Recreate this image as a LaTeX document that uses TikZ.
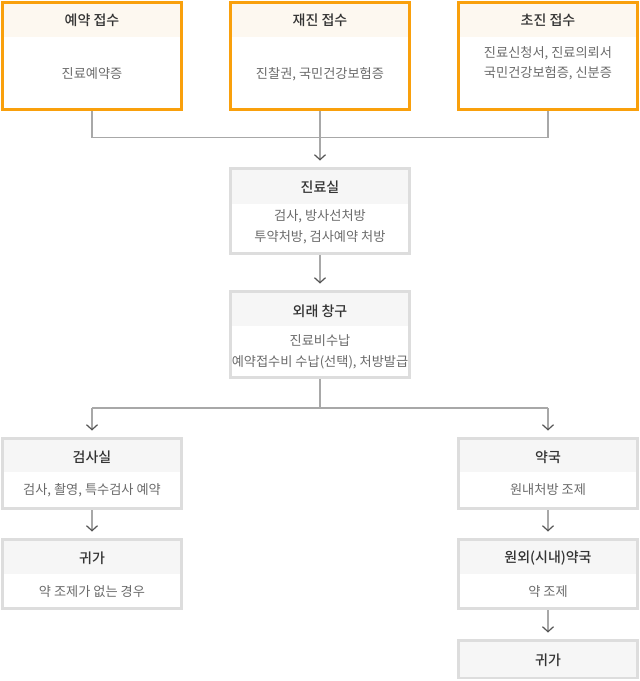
\documentclass[tikz,border=0pt]{standalone}
\usepackage{fontspec}
\setmainfont{Noto Sans CJK KR}[BoldFont={Noto Sans CJK KR Medium}]
\usetikzlibrary{arrows.meta}
\definecolor{orng}{HTML}{F9A00C}
\definecolor{gbord}{HTML}{DDDDDD}
\definecolor{hgray}{HTML}{F6F6F6}
\definecolor{hcream}{HTML}{FDF8F0}
\definecolor{ttlc}{HTML}{333333}
\definecolor{bodyc}{HTML}{6A6A6A}
\definecolor{lnc}{HTML}{A8A8A8}
\definecolor{tipc}{HTML}{555555}
\tikzset{
  obox/.style={draw=orng,line width=3pt,inner sep=0pt,outer sep=0pt,minimum width=179pt},
  gbox/.style={draw=gbord,line width=3pt,inner sep=0pt,outer sep=0pt,minimum width=179pt},
  ttl/.style={font=\fontsize{14}{17}\selectfont\bfseries,text=ttlc,inner sep=0pt},
  bdy/.style={font=\fontsize{13.2}{20.5}\selectfont,text=bodyc,align=center,inner sep=0pt},
  ln/.style={draw=lnc,line width=1.1pt},
  arr/.style={draw=lnc,line width=1.1pt,-{Straight Barb[length=5pt,width=11pt,line width=1.2pt,color=tipc]}}
}
\begin{document}
\begin{tikzpicture}[x=1pt,y=-1pt]
\useasboundingbox (0,0) rectangle (640,681);
% top row
\node[obox, minimum height=107, anchor=north] (ya) at (92,2.5) {};
\fill[hcream] (92-88,4) rectangle (92+88,37);
\node[ttl] (yat) at (92,20) {예약 접수};
\node[bdy] (yab) at (92,74) {진료예약증};

\node[obox, minimum height=107, anchor=north] (ja) at (320,2.5) {};
\fill[hcream] (320-88,4) rectangle (320+88,37);
\node[ttl] (jat) at (320,20) {재진 접수};
\node[bdy] (jab) at (320,74) {진찰권, 국민건강보험증};

\node[obox, minimum height=107, anchor=north] (ca) at (548,2.5) {};
\fill[hcream] (548-88,4) rectangle (548+88,37);
\node[ttl] (cat) at (548,20) {초진 접수};
\node[bdy] (cab) at (548,63.5) {진료신청서, 진료의뢰서\\국민건강보험증, 신분증};

% 진료실
\node[gbox, minimum height=85, anchor=north] (jr) at (320,168.5) {};
\fill[hgray] (320-88,170) rectangle (320+88,204);
\node[ttl] (jrt) at (320,187) {진료실};
\node[bdy] (jrb) at (320,227) {검사, 방사선처방\\투약처방, 검사예약 처방};

% 외래 창구
\node[gbox, minimum height=86, anchor=north] (wc) at (320,291.5) {};
\fill[hgray] (320-88,293) rectangle (320+88,326);
\node[ttl] (wct) at (320,311) {외래 창구};
\node[bdy] (wcb) at (320,352) {진료비수납\\예약접수비 수납(선택), 처방발급};

% 검사실
\node[gbox, minimum height=70, anchor=north] (gs) at (92,438.5) {};
\fill[hgray] (92-88,440) rectangle (92+88,472);
\node[ttl] (gst) at (92,457) {검사실};
\node[bdy] (gsb) at (92,490) {검사, 촬영, 특수검사 예약};

% 귀가 (left)
\node[gbox, minimum height=69, anchor=north] (gl) at (92,539.5) {};
\fill[hgray] (92-88,541) rectangle (92+88,574);
\node[ttl] (glt) at (92,558) {귀가};
\node[bdy] (glb) at (92,592) {약 조제가 없는 경우};

% 약국
\node[gbox, minimum height=70, anchor=north] (yk) at (548,438.5) {};
\fill[hgray] (548-88,440) rectangle (548+88,472);
\node[ttl] (ykt) at (548,457) {약국};
\node[bdy] (ykb) at (548,490) {원내처방 조제};

% 원외(시내)약국
\node[gbox, minimum height=69, anchor=north] (wy) at (548,539.5) {};
\fill[hgray] (548-88,541) rectangle (548+88,574);
\node[ttl] (wyt) at (548,558) {원외(시내)약국};
\node[bdy] (wyb) at (548,592) {약 조제};

% 귀가 (right)
\node[gbox, minimum height=37, anchor=north] (gr) at (548,640.5) {};
\fill[hgray] (548-88,642) rectangle (548+88,677);
\node[ttl] (grt) at (548,660) {귀가};

% connectors
\coordinate (j1) at (320,137.5);
\coordinate (j1l) at (92,137.5);
\coordinate (j1r) at (548,137.5);
\draw[ln] ([yshift=-1.5pt]ya.south) -- (j1l) -- (j1r) -- ([yshift=-1.5pt]ca.south);
\draw[ln] ([yshift=-1.5pt]ja.south) -- (j1);
\draw[arr] (j1) -- ([yshift=8pt]jr.north);
\draw[arr] ([yshift=-1.5pt]jr.south) -- ([yshift=8pt]wc.north);

\coordinate (j2) at (320,408);
\coordinate (j2l) at (92,408);
\coordinate (j2r) at (548,408);
\draw[ln] ([yshift=-1.5pt]wc.south) -- (j2);
\draw[ln] (j2l) -- (j2r);
\draw[arr] (j2l) -- ([yshift=8pt]gs.north);
\draw[arr] (j2r) -- ([yshift=8pt]yk.north);
\draw[arr] ([yshift=-1.5pt]gs.south) -- ([yshift=8pt]gl.north);
\draw[arr] ([yshift=-1.5pt]yk.south) -- ([yshift=8pt]wy.north);
\draw[arr] ([yshift=-1.5pt]wy.south) -- ([yshift=8pt]gr.north);
\end{tikzpicture}
\end{document}
